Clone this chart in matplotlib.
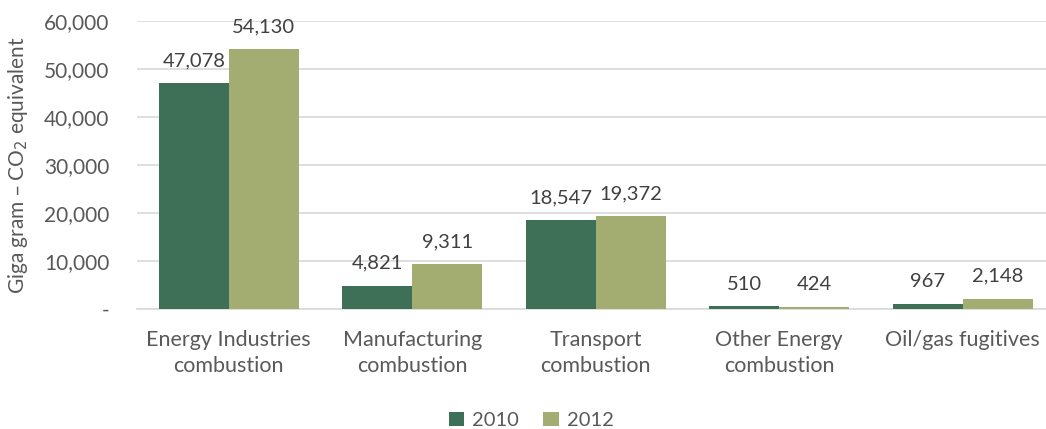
import numpy as np
import matplotlib.pyplot as plt

plt.rcParams['font.family'] = ['Lato', 'DejaVu Sans']

categories = ['Energy Industries\ncombustion', 'Manufacturing\ncombustion',
              'Transport\ncombustion', 'Other Energy\ncombustion', 'Oil/gas fugitives']
years = ['2010', '2012']
values_2010 = [47078, 4821, 18547, 510, 967]
values_2012 = [54130, 9311, 19372, 424, 2148]
colors = ['#3e7058', '#a3ad72']

fig = plt.figure(figsize=(10.46, 4.29), dpi=100)
ax = fig.add_axes([0.131, 0.28, 0.877, 0.671])

x = np.arange(len(categories))
w = 0.381
for i, (vals, col) in enumerate(zip([values_2010, values_2012], colors)):
    bars = ax.bar(x + (i - 0.5) * w, vals, w, color=col, label=years[i], zorder=3)
    for b, v in zip(bars, vals):
        ax.annotate(f'{v:,}', (b.get_x() + b.get_width() / 2, v),
                    xytext=(0, 10), textcoords='offset points',
                    ha='center', va='bottom', fontsize=14.5, color='#404040')

ax.set_xlim(-0.5, len(categories) - 0.5)
ax.set_ylim(0, 60000)
ax.set_yticks(range(0, 60001, 10000))
ax.set_yticklabels(['-'] + [f'{v:,}' for v in range(10000, 60001, 10000)])
ax.set_xticks(x)
ax.set_xticklabels(categories, fontsize=15.5, color='#595959', linespacing=1.4)
ax.tick_params(axis='y', labelsize=15, labelcolor='#595959', length=0, pad=20)
ax.tick_params(axis='x', length=0, pad=15)
ax.grid(axis='y', color='#d9d9d9', linewidth=1.2, zorder=0)
for s in ['top', 'right', 'left']:
    ax.spines[s].set_visible(False)
ax.spines['bottom'].set_color('#d9d9d9')
ax.spines['bottom'].set_linewidth(1.2)

ax.set_ylabel('Giga gram – CO$_2$ equivalent', fontsize=15, color='#595959')
ax.yaxis.set_label_coords(-0.117, 0.5)

fig.legend(loc='center', bbox_to_anchor=(0.508, 0.02), ncol=2, frameon=False,
           fontsize=14.5, labelcolor='#595959', handlelength=0.75, handleheight=0.75,
           handletextpad=0.4, columnspacing=1.2)

fig.savefig('out.png', dpi=100)
